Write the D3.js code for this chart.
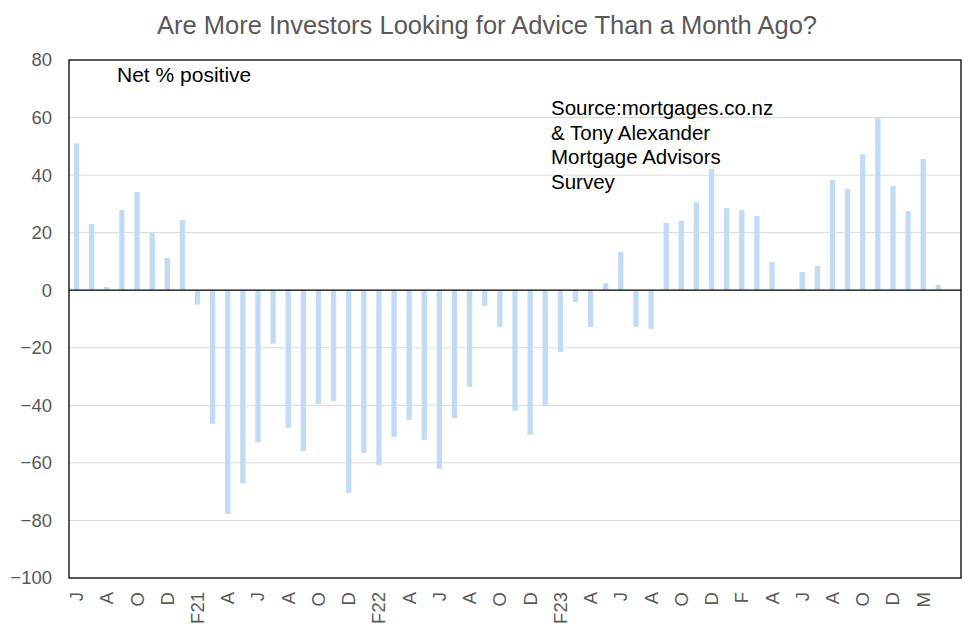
<!DOCTYPE html>
<html>
<head>
<meta charset="utf-8">
<script src="https://cdn.jsdelivr.net/npm/d3@7"></script>
<style>
  body { margin: 0; background: #fff; }
  svg text { font-family: "Liberation Sans", Arial, sans-serif; }
</style>
</head>
<body>
<svg id="chart" width="976" height="637"></svg>
<script>
// month labels, one per bar (only every second one is shown on the axis)
var months = ['J', 'J', 'A', 'S', 'O', 'N', 'D', 'J', 'F21', 'M', 'A', 'M',
              'J', 'J', 'A', 'S', 'O', 'N', 'D', 'J', 'F22', 'M', 'A', 'M',
              'J', 'J', 'A', 'S', 'O', 'N', 'D', 'J', 'F23', 'M', 'A', 'M',
              'J', 'J', 'A', 'S', 'O', 'N', 'D', 'J', 'F', 'M', 'A', 'M',
              'J', 'J', 'A', 'S', 'O', 'N', 'D', 'F', 'M', 'A', ''];

// net % positive
var netPositive = [51, 23, 1.1, 27.9, 34.1, 20, 11.2, 24.4, -5, -46.4, -77.7, -67.2,
                   -52.8, -18.6, -47.8, -55.9, -39.5, -38.5, -70.5, -56.6, -60.7, -51, -45.1, -52,
                   -62.1, -44.4, -33.6, -5.5, -12.8, -41.9, -50.2, -40.2, -21.5, -4.1, -12.8, 2.5,
                   13.3, -12.7, -13.4, 23.4, 24.1, 30.6, 42.1, 28.6, 27.9, 25.8, 9.8, null,
                   6.3, 8.4, 38.3, 35.2, 47.3, 59.8, 36.2, 27.5, 45.6, 1.8, null];

var yTicks = [-100, -80, -60, -40, -20, 0, 20, 40, 60, 80];

var titleText = 'Are More Investors Looking for Advice Than a Month Ago?';
var noteText = 'Net % positive';
var sourceLines = ['Source:mortgages.co.nz', '& Tony Alexander', 'Mortgage Advisors', 'Survey'];

var svg = d3.select('#chart');
var plotL = 69, plotR = 961, plotT = 60, plotB = 578;

var idx = d3.range(months.length);
var x = d3.scaleBand().domain(idx).range([plotL, plotR]).paddingInner(0.65).paddingOuter(0.325);
var y = d3.scaleLinear().domain([-100, 80]).range([plotB, plotT]);

// title
svg.append('text')
    .attr('x', 487).attr('y', 34)
    .attr('text-anchor', 'middle')
    .attr('fill', '#595959')
    .style('font-size', '25.5px')
    .text(titleText);

// gridlines
svg.append('g').selectAll('line')
    .data(yTicks.filter(function(d) { return d !== 0 && d !== -100 && d !== 80; }))
    .enter().append('line')
    .attr('x1', plotL).attr('x2', plotR)
    .attr('y1', function(d) { return y(d); })
    .attr('y2', function(d) { return y(d); })
    .attr('stroke', '#d9d9d9').attr('stroke-width', 1);

// y axis labels
var yAxis = d3.axisLeft(y).tickValues(yTicks).tickSize(0).tickPadding(17);
var gy = svg.append('g').attr('transform', 'translate(' + plotL + ',0)').call(yAxis);
gy.select('.domain').remove();
gy.selectAll('text').attr('fill', '#595959').style('font-size', '18.5px');

// bars
svg.append('g').selectAll('rect')
    .data(idx.filter(function(i) { return netPositive[i] !== null; }))
    .enter().append('rect')
    .attr('x', function(i) { return x(i); })
    .attr('width', x.bandwidth())
    .attr('y', function(i) { return y(Math.max(0, netPositive[i])); })
    .attr('height', function(i) { return Math.abs(y(netPositive[i]) - y(0)); })
    .attr('fill', '#c1dbf7');

// zero line
svg.append('line')
    .attr('x1', plotL).attr('x2', plotR)
    .attr('y1', y(0)).attr('y2', y(0))
    .attr('stroke', '#000').attr('stroke-width', 1.3);

// plot frame
svg.append('rect')
    .attr('x', plotL).attr('y', plotT)
    .attr('width', plotR - plotL).attr('height', plotB - plotT)
    .attr('fill', 'none').attr('stroke', '#000').attr('stroke-width', 1.3);

// x axis labels (rotated)
var xAxis = d3.axisBottom(x)
    .tickValues(idx.filter(function(i) { return i % 2 === 0; }))
    .tickFormat(function(i) { return months[i]; })
    .tickSize(0);
var gx = svg.append('g').attr('transform', 'translate(0,' + plotB + ')').call(xAxis);
gx.select('.domain').remove();
gx.selectAll('text')
    .attr('fill', '#595959')
    .style('font-size', '18.5px')
    .attr('text-anchor', 'end')
    .attr('transform', 'rotate(-90)')
    .attr('x', -14).attr('y', 0).attr('dy', '0.35em');

// annotations
svg.append('text')
    .attr('x', 117).attr('y', 82)
    .attr('fill', '#000')
    .style('font-size', '21px')
    .text(noteText);

svg.append('g').selectAll('text')
    .data(sourceLines)
    .enter().append('text')
    .attr('x', 551)
    .attr('y', function(d, i) { return 115 + i * 24.5; })
    .attr('fill', '#000')
    .style('font-size', '20.5px')
    .text(function(d) { return d; });
</script>
</body>
</html>
